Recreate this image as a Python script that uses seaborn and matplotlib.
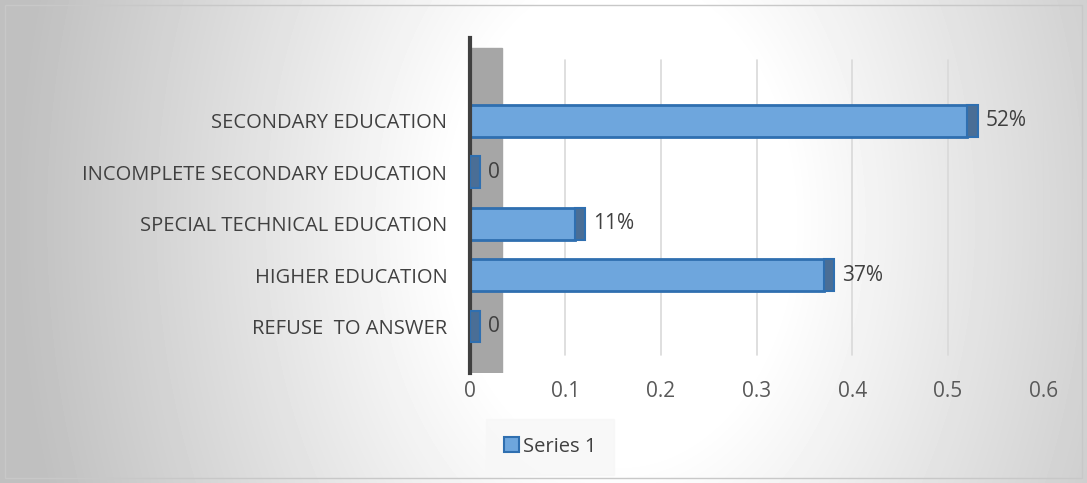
import numpy as np
import seaborn as sns
import matplotlib.pyplot as plt
from matplotlib.patches import Rectangle

# data
categories = ["SECONDARY EDUCATION", "INCOMPLETE SECONDARY EDUCATION",
              "SPECIAL TECHNICAL EDUCATION", "HIGHER EDUCATION", "REFUSE  TO ANSWER"]
values = [0.52, 0.0, 0.11, 0.37, 0.0]
value_labels = ["52%", "0", "11%", "37%", "0"]
x_ticks = [0, 0.1, 0.2, 0.3, 0.4, 0.5, 0.6]
series_name = "Series 1"

sns.set_theme(style="white")
plt.rcParams["font.family"] = ["Open Sans", "DejaVu Sans"]

W, H = 1087, 483
fig = plt.figure(figsize=(W / 100, H / 100), dpi=100)

# background: radial gradient, white near the middle, gray at the sides
bg = fig.add_axes([0, 0, 1, 1], zorder=-10)
px = np.arange(W)
py = np.arange(H)
X, Y = np.meshgrid(px, py)
r = np.sqrt((X - 620) ** 2 + ((Y - 220) / 1.4) ** 2)
grad = np.clip(1.0 - 0.24 * np.clip(r - 170, 0, None) / 420, 0.75, 1.0)
bg.imshow(grad, cmap="gray", vmin=0, vmax=1, aspect="auto", extent=[0, W, H, 0])
bg.add_patch(Rectangle((5, 5), W - 10, H - 10, fill=False, edgecolor="#c8c8c8", lw=1))
bg.set_xlim(0, W)
bg.set_ylim(H, 0)
bg.axis("off")

ax = fig.add_axes([0.432, 0.228, 0.528, 0.694])
ax.patch.set_alpha(0)

# gray side wall of the 3d chart
ax.axvspan(0, 0.034, ymin=0.0, ymax=0.97, color="#a6a6a6", zorder=0)

for t in x_ticks[1:]:
    ax.axvline(t, ymin=0.054, ymax=0.934, color="#d9d9d9", lw=1.2, zorder=0)

sns.barplot(x=values, y=categories, orient="h", color="#6ea6dd", edgecolor="#2f6fb0",
            linewidth=2, width=0.62, saturation=1, ax=ax, zorder=2)

# dark end face of each bar (3d depth)
for i, v in enumerate(values):
    ax.add_patch(Rectangle((v, i - 0.31), 0.011, 0.62, facecolor="#4a6e96",
                           edgecolor="#2f6fb0", lw=1.5, zorder=3))

for i, (v, lab) in enumerate(zip(values, value_labels)):
    ax.text(v + 0.019, i, lab, va="center", ha="left", fontsize=15, color="#404040")

ax.set_xlim(0, 0.6)
ax.set_ylim(4.9, -1.61)
ax.set_xticks(x_ticks)
ax.set_xticklabels([f"{t:g}" for t in x_ticks], fontsize=15, color="#595959")
ax.tick_params(axis="x", length=0, pad=6)
ax.tick_params(axis="y", length=0, pad=16, labelsize=14.5, labelcolor="#404040")
ax.set_xlabel("")
ax.set_ylabel("")
for s in ["top", "right", "bottom"]:
    ax.spines[s].set_visible(False)
ax.spines["left"].set_color("#404040")
ax.spines["left"].set_linewidth(3)

# legend
handle = Rectangle((0, 0), 1, 1, facecolor="#6ea6dd", edgecolor="#2f6fb0", lw=1.5)
leg = fig.legend([handle], [series_name], loc="center", bbox_to_anchor=(0.506, 0.075),
                 frameon=True, fontsize=14.5, handlelength=0.75, handleheight=0.75,
                 handletextpad=0.2, borderpad=0.6)
leg.get_frame().set_facecolor("#f7f7f7")
leg.get_frame().set_edgecolor("#f7f7f7")
leg.get_frame().set_boxstyle("square")
for t in leg.get_texts():
    t.set_color("#404040")

fig.savefig("out.png", dpi=100)
